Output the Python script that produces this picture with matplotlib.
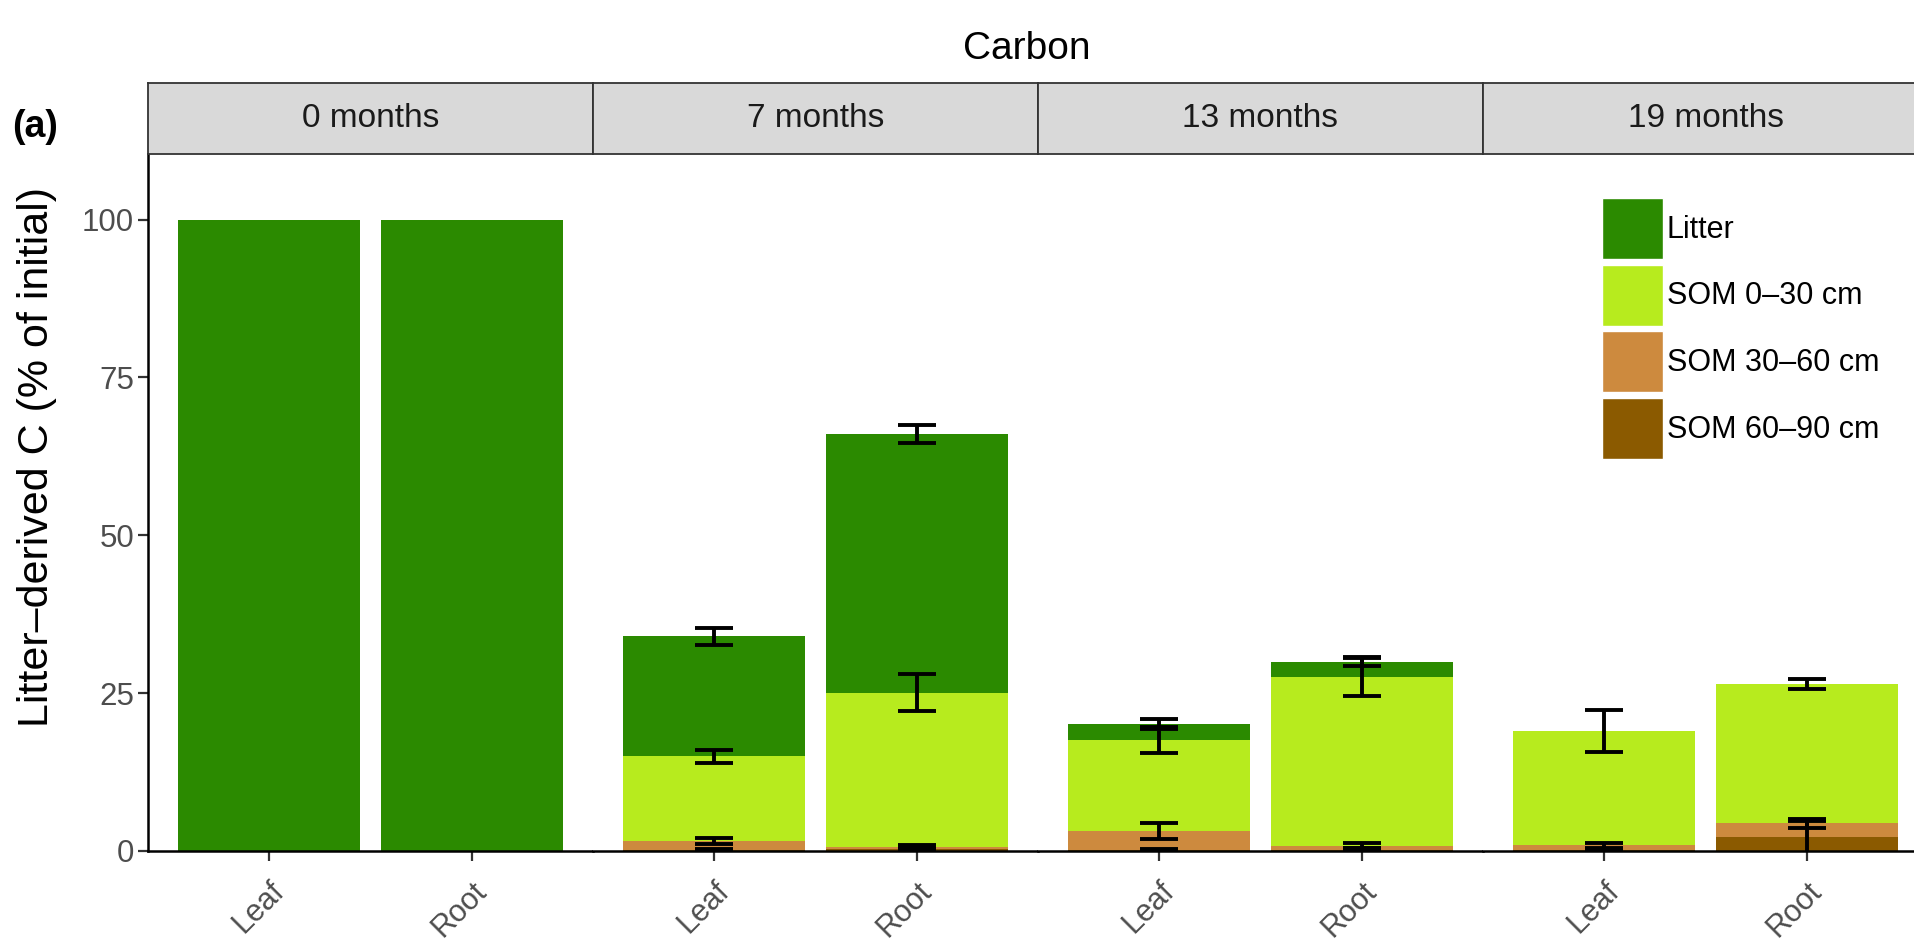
import numpy as np
import matplotlib.pyplot as plt
from matplotlib.patches import Patch

plt.rcParams['font.family'] = ['Liberation Sans', 'DejaVu Sans']

months = ["0 months", "7 months", "13 months", "19 months"]
types = ["Leaf", "Root"]

# segment heights per panel, [Leaf, Root]; stacked bottom -> top
som6090 = [[0, 0], [0.2, 0.3], [0.2, 0.2], [0.2, 2.2]]
som3060 = [[0, 0], [1.4, 0.3], [3.0, 0.6], [0.7, 2.2]]
som030 = [[0, 0], [13.4, 24.5], [14.4, 26.8], [18.1, 22.05]]
litter = [[100, 100], [19.0, 41.0], [2.5, 2.4], [0, 0]]

# error (+/-) at the cumulative top of each segment
som6090_err = [[0, 0], [0.1, 0.2], [0.1, 0.2], [0.1, 2.5]]
som3060_err = [[0, 0], [0.45, 0.4], [1.25, 0.4], [0.4, 0.7]]
som030_err = [[0, 0], [1.05, 2.9], [2.1, 3.0], [3.35, 0.8]]
litter_err = [[0, 0], [1.3, 1.4], [0.8, 0.75], [0, 0]]

layer_names = ["SOM 60\u201390 cm", "SOM 30\u201360 cm", "SOM 0\u201330 cm", "Litter"]
layer_colors = ["#8b5a00", "#cd8a3e", "#b7eb1e", "#2b8a00"]
layers = [som6090, som3060, som030, litter]
errors = [som6090_err, som3060_err, som030_err, litter_err]

W, H = 1915, 941
fig = plt.figure(figsize=(W / 100, H / 100), dpi=100)

x0, pw = 148, 445          # panel left / width in px
ptop, pbot = 154, 851      # panel top / bottom in px
stop = 83                  # strip top

x = np.arange(1, 3)
for i, m in enumerate(months):
    left = x0 + i * pw
    ax = fig.add_axes([left / W, 1 - pbot / H, pw / W, (pbot - ptop) / H])
    bottom = np.zeros(2)
    for vals, errs, col, name in zip(layers, errors, layer_colors, layer_names):
        v = np.array(vals[i], dtype=float)
        ax.bar(x, v, width=0.9, bottom=bottom, color=col, linewidth=0)
        bottom = bottom + v
        e = np.array(errs[i], dtype=float)
        ok = e > 0
        if ok.any():
            ax.errorbar(x[ok], bottom[ok], yerr=e[ok], fmt='none', ecolor='black',
                        elinewidth=2.8, capsize=14, capthick=2.8, zorder=5)
    ax.set_xlim(0.4, 2.6)
    ax.set_ylim(0, 110.4)
    ax.set_xticks(x)
    ax.set_xticklabels(types, rotation=45, ha='right', va='top',
                       rotation_mode='anchor', fontsize=22, color='#4d4d4d')
    ax.tick_params(axis='x', length=7, width=1.6, color='#333333', pad=11)
    for s in ['top', 'right']:
        ax.spines[s].set_visible(False)
    ax.spines['bottom'].set_linewidth(1.8)
    if i == 0:
        ax.set_yticks([0, 25, 50, 75, 100])
        ax.tick_params(axis='y', length=7, width=1.6, color='#333333', pad=3,
                       labelsize=22.5, labelcolor='#4d4d4d')
        ax.spines['left'].set_linewidth(1.8)
        ax.set_ylabel("Litter\u2013derived C (% of initial)", fontsize=31)
        ax.yaxis.set_label_coords(-0.205, 0.565)
    else:
        ax.spines['left'].set_visible(False)
        ax.tick_params(axis='y', left=False, labelleft=False)

    # facet strip
    sax = fig.add_axes([left / W, 1 - ptop / H, pw / W, (ptop - stop) / H])
    sax.set_facecolor('#d9d9d9')
    sax.set_xticks([])
    sax.set_yticks([])
    for s in sax.spines.values():
        s.set_color('#333333')
        s.set_linewidth(1.3)
    sax.text(0.5, 0.5, m, ha='center', va='center', fontsize=24, color='#1a1a1a',
             transform=sax.transAxes)

    if i == 3:
        handles = [Patch(facecolor=c, edgecolor='white', linewidth=1, label=n)
                   for c, n in zip(layer_colors[::-1], layer_names[::-1])]
        ax.legend(handles=handles, loc='upper left', frameon=False, fontsize=22,
                  handlelength=2.0, handleheight=2.7, labelspacing=0.18,
                  handletextpad=0.12, borderpad=0, borderaxespad=0,
                  bbox_to_anchor=(1602 / W, 1 - 198 / H),
                  bbox_transform=fig.transFigure)

fig.text(1027 / W, 1 - 49 / H, "Carbon", ha='center', va='center', fontsize=28)
fig.text(12 / W, 1 - 127 / H, "(a)", ha='left', va='center', fontsize=27,
         fontweight='bold')

fig.savefig("out.png", dpi=100)
